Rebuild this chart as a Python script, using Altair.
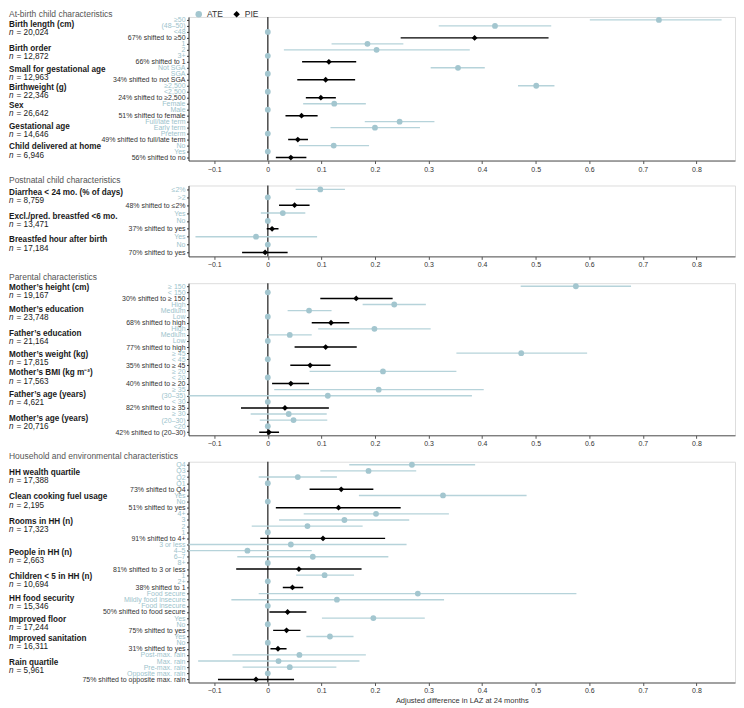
import json
import altair as alt
import pandas as pd

# ---------------- data ----------------
p1_title = "At-birth child characteristics"
p1_labels = ["≥50", "(48–50)", "<48", "67% shifted to ≥50",
             "1", "2", "3+", "66% shifted to 1",
             "Not SGA", "SGA", "34% shifted to not SGA",
             "≥2,500", "<2,500", "24% shifted to ≥2,500",
             "Female", "Male", "51% shifted to female",
             "Full/late term", "Early term", "Preterm", "49% shifted to full/late term",
             "No", "Yes", "56% shifted to no"]
p1_est = [0.730, 0.424, 0, 0.386, 0.186, 0.203, 0, 0.114, 0.355, 0, 0.108, 0.501, 0, 0.099,
          0.124, 0, 0.063, 0.246, 0.200, 0, 0.056, 0.123, 0, 0.043]
p1_lo = [0.601, 0.319, None, 0.248, 0.119, 0.030, None, 0.064, 0.304, None, 0.055, 0.467, None, 0.071,
         0.066, None, 0.033, 0.181, 0.117, None, 0.038, 0.058, None, 0.015]
p1_hi = [0.847, 0.529, None, 0.524, 0.253, 0.377, None, 0.165, 0.405, None, 0.163, 0.535, None, 0.127,
         0.183, None, 0.093, 0.311, 0.284, None, 0.075, 0.189, None, 0.072]
p1_names = ["Birth length (cm)", "Birth order", "Small for gestational age", "Birthweight (g)",
            "Sex", "Gestational age", "Child delivered at home"]
p1_n = ["20,024", "12,872", "12,963", "22,346", "26,642", "14,646", "6,946"]
p1_sizes = [4, 4, 3, 3, 3, 4, 3]

p2_title = "Postnatal child characteristics"
p2_labels = ["≤2%", ">2", "48% shifted to ≤2%",
             "Yes", "No", "37% shifted to yes",
             "Yes", "No", "70% shifted to yes"]
p2_est = [0.098, 0, 0.050, 0.028, 0, 0.008, -0.022, 0, -0.005]
p2_lo = [0.052, None, 0.021, -0.013, None, -0.002, -0.135, None, -0.048]
p2_hi = [0.144, None, 0.078, 0.070, None, 0.020, 0.092, None, 0.037]
p2_names = ["Diarrhea < 24 mo. (% of days)", "Excl./pred. breastfed <6 mo.", "Breastfed hour after birth"]
p2_n = ["8,759", "13,471", "17,184"]
p2_sizes = [3, 3, 3]

p3_title = "Parental characteristics"
p3_labels = ["≥ 150", "< 150", "30% shifted to ≥ 150",
             "High", "Medium", "Low", "68% shifted to high",
             "High", "Medium", "Low", "77% shifted to high",
             "≥ 45", "< 45", "35% shifted to ≥ 45",
             "≥ 20", "< 20", "40% shifted to ≥ 20",
             "≥ 35", "(30–35)", "< 30", "82% shifted to ≥ 35",
             "≥ 30", "(20–30)", "<20", "42% shifted to (20–30)"]
p3_est = [0.575, 0, 0.165, 0.236, 0.077, 0, 0.118, 0.199, 0.041, 0, 0.108, 0.473, 0, 0.079,
          0.215, 0, 0.043, 0.207, 0.112, 0, 0.032, 0.039, 0.048, 0, 0.002]
p3_lo = [0.472, None, 0.098, 0.177, 0.037, None, 0.082, 0.094, 0.000, None, 0.050, 0.352, None, 0.042,
         0.078, None, 0.008, 0.012, -0.157, None, -0.050, -0.032, -0.015, None, -0.016]
p3_hi = [0.678, None, 0.233, 0.295, 0.119, None, 0.152, 0.304, 0.082, None, 0.166, 0.596, None, 0.117,
         0.352, None, 0.077, 0.403, 0.381, None, 0.114, 0.110, 0.111, None, 0.021]
p3_names = ["Mother’s height (cm)", "Mother’s education", "Father’s education", "Mother’s weight (kg)",
            "Mother’s BMI (kg m⁻²)", "Father’s age (years)", "Mother’s age (years)"]
p3_n = ["19,167", "23,748", "21,164", "17,815", "17,563", "4,621", "20,716"]
p3_sizes = [3, 4, 4, 3, 3, 4, 4]

p4_title = "Household and environmental characteristics"
p4_labels = ["Q4", "Q3", "Q2", "Q1", "73% shifted to Q4",
             "Yes", "No", "51% shifted to yes",
             "4+", "3", "2", "1", "91% shifted to 4+",
             "3 or less", "4–5", "6–7", "8+", "81% shifted to 3 or less",
             "1", "2+", "38% shifted to 1",
             "Food secure", "Mildly food insecure", "Food insecure", "50% shifted to food secure",
             "Yes", "No", "75% shifted to yes",
             "Yes", "No", "31% shifted to yes",
             "Post-max. rain", "Max. rain", "Pre-max. rain", "Opposite max. rain",
             "75% shifted to opposite max. rain"]
p4_est = [0.269, 0.188, 0.056, 0, 0.137, 0.327, 0, 0.132, 0.202, 0.143, 0.074, 0, 0.103,
          0.043, -0.038, 0.084, 0, 0.058, 0.106, 0, 0.046, 0.280, 0.129, 0, 0.037,
          0.197, 0, 0.035, 0.116, 0, 0.019, 0.059, 0.020, 0.041, 0, -0.022]
p4_lo = [0.152, 0.098, -0.017, None, 0.078, 0.170, None, 0.015, 0.067, 0.021, -0.030, None, -0.014,
         -0.173, -0.158, -0.057, None, -0.059, 0.053, None, 0.028, -0.017, -0.068, None, 0.003,
         0.101, None, 0.010, 0.072, None, 0.005, -0.066, -0.130, -0.047, None, -0.093]
p4_hi = [0.387, 0.277, 0.129, None, 0.197, 0.483, None, 0.248, 0.338, 0.264, 0.177, None, 0.219,
         0.259, 0.082, 0.225, None, 0.175, 0.161, None, 0.066, 0.576, 0.329, None, 0.072,
         0.293, None, 0.061, 0.160, None, 0.035, 0.183, 0.171, 0.128, None, 0.049]
p4_names = ["HH wealth quartile", "Clean cooking fuel usage", "Rooms in HH (n)", "People in HH (n)",
            "Children < 5 in HH (n)", "HH food security", "Improved floor", "Improved sanitation",
            "Rain quartile"]
p4_n = ["17,388", "2,195", "17,323", "2,663", "10,694", "15,346", "17,244", "16,311", "5,961"]
p4_sizes = [5, 3, 5, 5, 3, 4, 3, 3, 5]

x_ticks = [-0.1, 0, 0.1, 0.2, 0.3, 0.4, 0.5, 0.6, 0.7, 0.8]
x_title = "Adjusted difference in LAZ at 24 months"

# ---------------- style ----------------
FONT = "Liberation Sans"
LIGHT_PT = "#a3c6cf"
LIGHT_LN = "#b6d3da"
LABEL_LIGHT = "#9cc3cc"
DARK = "#333333"
XMIN, XMAX = -0.148, 0.872
W = 548
TX = -180


def panel(title, labels, est, lo, hi, names, ns, sizes, step, title_y, legend, last):
    N = len(labels)
    df = pd.DataFrame({"idx": list(range(N)), "est": est, "lo": lo, "hi": hi})
    df["type"] = ["PIE" if "shifted" in l else "ATE" for l in labels]
    centers, s = [], 0
    for k in sizes:
        centers.append(s + (k - 1) / 2)
        s += k
    gdf = pd.DataFrame({"name": names, "n": ["= " + v for v in ns], "c": centers, "ni": ["n"] * len(ns)})
    arr = json.dumps(labels, ensure_ascii=False)

    yscale = alt.Scale(domain=[-0.5, N - 0.5], reverse=True, nice=False, zero=False)
    yaxis = alt.Axis(values=list(range(N)), labelExpr=f"{arr}[datum.value]",
                     labelColor={"condition": {"test": f"indexof({arr}[datum.value], 'shifted') >= 0",
                                               "value": DARK}, "value": LABEL_LIGHT},
                     title=None, grid=False, labelOverlap=False, labelFlush=False, labelBound=False,
                     tickSize=2, tickColor=DARK, domainColor=DARK, labelPadding=1.5,
                     labelFontSize=7, labelFont=FONT)
    xscale = alt.Scale(domain=[XMIN, XMAX], nice=False, zero=False)
    xaxis = alt.Axis(values=x_ticks, labelExpr="datum.value == 0 ? '0' : format(datum.value, '.1f')",
                     title=x_title if last else None, grid=False, tickSize=3, tickColor="#555",
                     domainColor="#555", labelFontSize=7, labelColor=DARK, labelFont=FONT,
                     labelPadding=1.5, titleFontSize=7.5, titleFontWeight="normal", titleColor=DARK,
                     titleFont=FONT, titlePadding=3)

    y = alt.Y("idx:Q", scale=yscale, axis=yaxis)
    base = alt.Chart(df)

    zero = alt.Chart(pd.DataFrame({"z": [0]})).mark_rule(color="#555555", strokeWidth=1.6).encode(
        x=alt.X("z:Q", scale=xscale, axis=xaxis))
    ate_ci = base.transform_filter("datum.type == 'ATE' && isValid(datum.lo)").mark_rule(
        color=LIGHT_LN, strokeWidth=1.4, clip=True).encode(
        x=alt.X("lo:Q", scale=xscale, axis=xaxis), x2="hi:Q", y=y)
    pie_ci = base.transform_filter("datum.type == 'PIE'").mark_rule(
        color="black", strokeWidth=1.5, clip=True).encode(
        x=alt.X("lo:Q", scale=xscale, axis=xaxis), x2="hi:Q", y=y)

    if legend:
        leg = alt.Legend(orient="none", legendX=6, legendY=-7, direction="horizontal", title=None,
                         labelFontSize=8.5, labelFont=FONT, labelColor=DARK, symbolSize=42,
                         symbolStrokeWidth=0, padding=0, columnPadding=9, labelOffset=4)
    else:
        leg = None
    pts = base.mark_point(filled=True, opacity=1, size=34, strokeWidth=0).encode(
        x=alt.X("est:Q", scale=xscale, axis=xaxis), y=y,
        color=alt.Color("type:N", scale=alt.Scale(domain=["ATE", "PIE"], range=[LIGHT_PT, "black"]),
                        legend=leg),
        shape=alt.Shape("type:N", scale=alt.Scale(domain=["ATE", "PIE"], range=["circle", "diamond"]),
                        legend=leg))

    gy = alt.Y("c:Q", scale=yscale, axis=yaxis)
    gbase = alt.Chart(gdf)
    name_t = gbase.mark_text(align="left", baseline="middle", dy=-4.1, fontSize=8.2, fontWeight="bold",
                             font=FONT, color="#1a1a1a").encode(x=alt.value(TX), y=gy, text="name:N")
    ni_t = gbase.mark_text(align="left", baseline="middle", dy=4.1, fontSize=8.2, fontStyle="italic",
                           font=FONT, color="#1a1a1a").encode(x=alt.value(TX), y=gy, text="ni:N")
    n_t = gbase.mark_text(align="left", baseline="middle", dy=4.1, fontSize=8.2,
                          font=FONT, color="#1a1a1a").encode(x=alt.value(TX + 7.6), y=gy, text="n:N")
    title_t = alt.Chart(pd.DataFrame({"t": [title]})).mark_text(
        align="left", baseline="middle", fontSize=8.5, font=FONT, color="#555555").encode(
        x=alt.value(TX), y=alt.value(title_y), text="t:N")

    return alt.layer(zero, ate_ci, pie_ci, pts, name_t, ni_t, n_t, title_t).properties(
        width=W, height=N * step)


c1 = panel(p1_title, p1_labels, p1_est, p1_lo, p1_hi, p1_names, p1_n, p1_sizes, 6.0, -3, True, False)
c2 = panel(p2_title, p2_labels, p2_est, p2_lo, p2_hi, p2_names, p2_n, p2_sizes, 7.9, -5, False, False)
c3 = panel(p3_title, p3_labels, p3_est, p3_lo, p3_hi, p3_names, p3_n, p3_sizes, 6.1, -6, False, False)
c4 = panel(p4_title, p4_labels, p4_est, p4_lo, p4_hi, p4_names, p4_n, p4_sizes, 6.15, -6, False, True)

chart = alt.vconcat(c1, c2, c3, c4, spacing=3).resolve_scale(
    color="independent", shape="independent").resolve_legend(
    color="independent", shape="independent").configure_view(stroke=None).configure(
    background="white", padding=0)

chart.save("out.html", embed_options={"renderer": "svg", "actions": False})
